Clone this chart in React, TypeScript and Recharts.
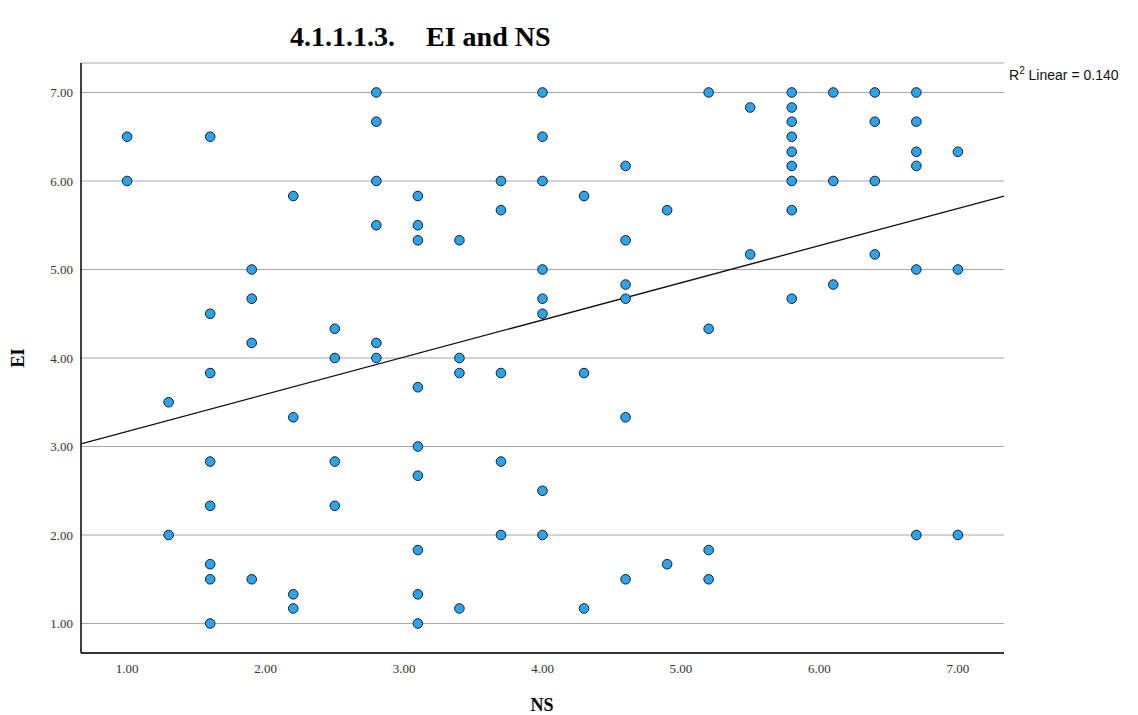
import React from 'react'
import {
  ScatterChart, Scatter, XAxis, YAxis, CartesianGrid, ReferenceLine,
} from 'recharts'

// ── Data ───────────────────────────────────────────────────────────────────

// NS levels on the x axis, and the EI scores seen at each level
const NS_LEVELS = [1.0, 1.3, 1.6, 1.9, 2.2, 2.5, 2.8, 3.1, 3.4, 3.7, 4.0, 4.3, 4.6, 4.9, 5.2, 5.5, 5.8, 6.1, 6.4, 6.7, 7.0]
const EI_AT_LEVEL = [
  [6.5, 6.0],
  [3.5, 2.0],
  [6.5, 4.5, 3.83, 2.83, 2.33, 1.67, 1.5, 1.0],
  [5.0, 4.67, 4.17, 1.5],
  [5.83, 3.33, 1.33, 1.17],
  [4.33, 4.0, 2.83, 2.33],
  [7.0, 6.67, 6.0, 5.5, 4.17, 4.0],
  [5.83, 5.5, 5.33, 3.67, 3.0, 2.67, 1.83, 1.33, 1.0],
  [5.33, 4.0, 3.83, 1.17],
  [6.0, 5.67, 3.83, 2.83, 2.0],
  [7.0, 6.5, 6.0, 5.0, 4.67, 4.5, 2.5, 2.0],
  [5.83, 3.83, 1.17],
  [6.17, 5.33, 4.83, 4.67, 3.33, 1.5],
  [5.67, 1.67],
  [7.0, 4.33, 1.83, 1.5],
  [6.83, 5.17],
  [7.0, 6.83, 6.67, 6.5, 6.33, 6.17, 6.0, 5.67, 4.67],
  [7.0, 6.0, 4.83],
  [7.0, 6.67, 6.0, 5.17],
  [7.0, 6.67, 6.33, 6.17, 5.0, 2.0],
  [6.33, 5.0, 2.0],
]

const X_TICKS = [1, 2, 3, 4, 5, 6, 7]
const Y_TICKS = [1, 2, 3, 4, 5, 6, 7]
const X_DOMAIN = [0.667, 7.333]
const Y_DOMAIN = [0.667, 7.333]

// fit line end points (NS, EI)
const FIT_NS = [0.667, 7.333]
const FIT_EI = [3.03, 5.83]
const R2_VALUE = '0.140'

const points = NS_LEVELS.flatMap((ns, i) => EI_AT_LEVEL[i].map((ei) => ({ ns, ei })))

const serif = '"Liberation Serif", "Times New Roman", serif'

const Dot = (props: any) => (
  <circle cx={props.cx} cy={props.cy} r={4.8} fill="#2aa4ee" stroke="#1e1e1e" strokeWidth={1} />
)

export default function App() {
  return (
    <div style={{ position: 'absolute', left: 0, top: 0, width: 1138, height: 715, background: '#fff' }}>
      <div style={{ position: 'absolute', left: 290, top: 21, fontFamily: serif, fontWeight: 'bold', fontSize: 28, whiteSpace: 'nowrap' }}>
        4.1.1.1.3.
      </div>
      <div style={{ position: 'absolute', left: 426, top: 21, fontFamily: serif, fontWeight: 'bold', fontSize: 28, whiteSpace: 'nowrap' }}>
        EI and NS
      </div>

      <ScatterChart width={1138} height={715} margin={{ top: 63, right: 134, bottom: 0, left: 0 }}>
        <CartesianGrid vertical={false} stroke="#a8a8a8" strokeWidth={1} />
        <XAxis
          type="number" dataKey="ns" domain={X_DOMAIN} ticks={X_TICKS} allowDataOverflow
          height={62} tickLine={false} tickSize={0} tickMargin={11}
          tickFormatter={(v: number) => v.toFixed(2)}
          tick={{ fontSize: 13, fill: '#333', fontFamily: serif }}
          axisLine={{ stroke: '#000', strokeWidth: 1.5 }}
        />
        <YAxis
          type="number" dataKey="ei" domain={Y_DOMAIN} ticks={Y_TICKS} allowDataOverflow
          width={81} tickLine={false} tickSize={0} tickMargin={8}
          tickFormatter={(v: number) => v.toFixed(2)}
          tick={{ fontSize: 13, fill: '#333', fontFamily: serif }}
          axisLine={{ stroke: '#000', strokeWidth: 1.5 }}
        />
        <Scatter data={points} shape={Dot} isAnimationActive={false} />
        <ReferenceLine
          segment={[{ x: FIT_NS[0], y: FIT_EI[0] }, { x: FIT_NS[1], y: FIT_EI[1] }]}
          stroke="#111" strokeWidth={1.3} ifOverflow="visible"
        />
      </ScatterChart>

      <div style={{ position: 'absolute', left: 1009, top: 65, fontFamily: '"Liberation Sans", Arial, sans-serif', fontSize: 14, color: '#111', whiteSpace: 'nowrap' }}>
        R<sup style={{ fontSize: 10 }}>2</sup> Linear = {R2_VALUE}
      </div>

      <div style={{ position: 'absolute', left: 18, top: 358, transform: 'translate(-50%, -50%) rotate(-90deg)', fontFamily: serif, fontWeight: 'bold', fontSize: 18 }}>
        EI
      </div>
      <div style={{ position: 'absolute', left: 542, top: 705, transform: 'translate(-50%, -50%)', fontFamily: serif, fontWeight: 'bold', fontSize: 18 }}>
        NS
      </div>
    </div>
  )
}
